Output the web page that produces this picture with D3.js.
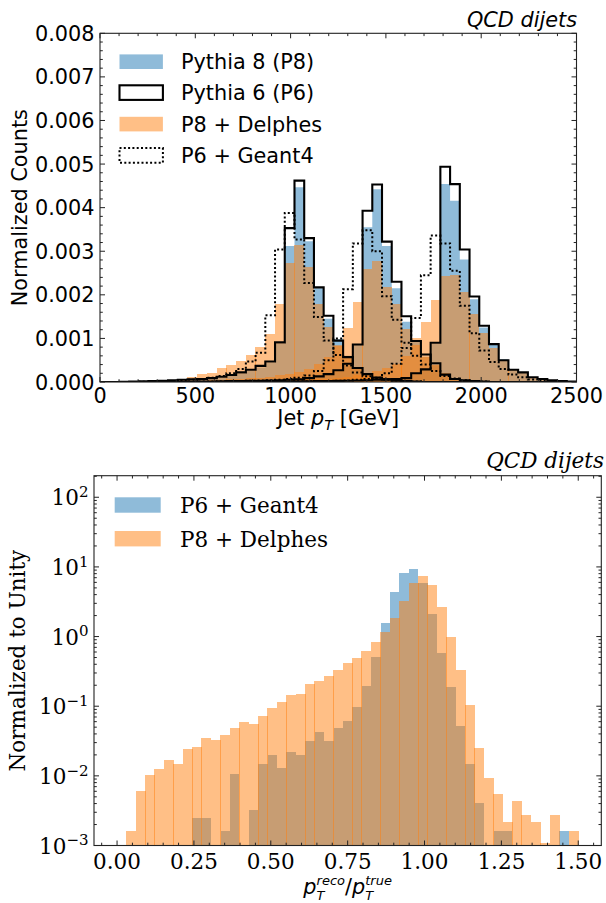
<!DOCTYPE html>
<html><head><meta charset="utf-8">
<script src="https://cdn.jsdelivr.net/npm/d3@7"></script>
<style>body{margin:0;background:#fff}svg{display:block}</style>
</head><body>
<script>
// ================= DATA =================
// Top panel: jet pT histograms, np.linspace(0,2500,50) bin edges -> 49 bins
const ptBinMin = 0, ptBinMax = 2500, ptBinCount = 49;
const countUnit = 1e-3; // values below are in units of 1e-3 (normalized counts)

const p8Slice1 = [0,0,0.005,0.01,0.015,0.02,0.025,0.03,0.04,0.05,
  0.06,0.08,0.10,0.14,0.19,0.25,0.33,0.45,0.88,3.12,
  4.47,3.23,2.15,1.45,0.98,0.60,0.34,0.19,0.10,0.06,
  0.03,0.02,0.01,0,0,0,0,0,0,0,
  0,0,0,0,0,0,0,0,0];
const p8Slice2 = [0,0,0,0,0,0,0,0,0,0,
  0.01,0.01,0.015,0.015,0.02,0.025,0.03,0.035,0.04,0.05,
  0.06,0.08,0.12,0.17,0.26,0.42,0.85,3.55,4.42,3.12,
  2.15,1.38,0.95,0.58,0.38,0.18,0.08,0.04,0.02,0.01,
  0,0,0,0,0,0,0,0,0];
const p8Slice3 = [0,0,0,0,0,0,0,0,0,0,
  0,0,0,0,0,0,0,0,0.005,0.005,
  0.01,0.01,0.015,0.015,0.02,0.025,0.03,0.035,0.04,0.05,
  0.06,0.09,0.18,0.30,0.88,4.54,4.16,2.81,1.90,1.25,
  0.85,0.52,0.30,0.21,0.11,0.07,0.04,0.02,0.01];

const p6Slice1 = [0,0,0.005,0.01,0.015,0.02,0.03,0.04,0.05,0.06,
  0.07,0.09,0.12,0.16,0.22,0.28,0.37,0.47,0.91,3.53,
  4.62,3.30,2.17,1.52,0.95,0.57,0.32,0.18,0.10,0.06,
  0.03,0.02,0.01,0,0,0,0,0,0,0,
  0,0,0,0,0,0,0,0,0];
const p6Slice2 = [0,0,0,0,0,0,0,0,0,0,
  0.01,0.01,0.015,0.02,0.02,0.025,0.03,0.035,0.04,0.05,
  0.06,0.09,0.13,0.18,0.27,0.42,0.86,3.93,4.53,3.22,
  2.30,1.51,0.94,0.63,0.43,0.17,0.07,0.04,0.02,0.01,
  0,0,0,0,0,0,0,0,0];
const p6Slice3 = [0,0,0,0,0,0,0,0,0,0,
  0,0,0,0,0,0,0,0,0.005,0.01,
  0.01,0.015,0.02,0.02,0.025,0.03,0.035,0.04,0.05,0.06,
  0.07,0.09,0.20,0.29,0.90,4.94,4.54,3.04,1.96,1.29,
  0.87,0.50,0.28,0.22,0.11,0.07,0.04,0.02,0.01];

const delphesSlice1 = [0,0.005,0.005,0.01,0.01,0.02,0.03,0.04,0.07,0.12,
  0.19,0.21,0.31,0.38,0.48,0.61,0.80,1.10,1.78,2.72,
  3.14,2.63,1.80,1.27,0.85,0.55,0.33,0.20,0.12,0.07,
  0.04,0.02,0.01,0,0,0,0,0,0,0,
  0,0,0,0,0,0,0,0,0];
const delphesSlice2 = [0,0,0,0.005,0.005,0.01,0.01,0.015,0.02,0.02,
  0.03,0.035,0.05,0.06,0.07,0.085,0.10,0.12,0.15,0.18,
  0.22,0.30,0.42,0.58,0.82,1.23,1.84,2.60,2.78,2.19,
  1.78,1.22,0.85,0.58,0.40,0.20,0.10,0.05,0.03,0.01,
  0,0,0,0,0,0,0,0,0];
const delphesSlice3 = [0,0,0,0,0,0.005,0.005,0.005,0.01,0.01,
  0.01,0.01,0.015,0.015,0.02,0.02,0.03,0.03,0.04,0.045,
  0.05,0.06,0.07,0.08,0.10,0.12,0.16,0.20,0.26,0.32,
  0.42,0.60,1.00,1.37,1.87,2.43,2.45,2.07,1.56,1.12,
  0.77,0.50,0.29,0.20,0.12,0.06,0.03,0.01,0];

const geantSlice1 = [0,0,0,0,0.005,0.01,0.01,0.02,0.03,0.05,
  0.07,0.10,0.14,0.20,0.30,0.47,0.67,1.53,3.04,3.88,
  3.27,2.27,1.49,0.95,0.62,0.38,0.22,0.13,0.08,0.05,
  0.03,0.02,0.01,0,0,0,0,0,0,0,
  0,0,0,0,0,0,0,0,0];
const geantSlice2 = [0,0,0,0,0,0,0,0,0.005,0.005,
  0.01,0.01,0.015,0.02,0.02,0.03,0.035,0.04,0.05,0.07,
  0.10,0.15,0.25,0.50,1.00,2.13,3.18,3.48,3.00,1.97,
  1.43,0.90,0.60,0.40,0.25,0.14,0.08,0.04,0.02,0.01,
  0,0,0,0,0,0,0,0,0];
const geantSlice3 = [0,0,0,0,0,0,0,0,0,0,
  0,0,0,0,0.005,0.005,0.01,0.01,0.01,0.01,
  0.015,0.015,0.02,0.02,0.03,0.035,0.05,0.07,0.10,0.20,
  0.42,0.78,1.47,2.45,3.36,3.18,2.55,1.75,1.12,0.72,
  0.46,0.30,0.17,0.11,0.06,0.03,0.02,0.01,0];

const topXTicks = [0, 500, 1000, 1500, 2000, 2500];
const topYTicks = [0, 0.001, 0.002, 0.003, 0.004, 0.005, 0.006, 0.007, 0.008];
const topLegendLabels = ["Pythia 8 (P8)", "Pythia 6 (P6)", "P8 + Delphes", "P6 + Geant4"];

// Bottom panel: response pT(reco)/pT(true), np.linspace(0,1.5,50) -> 49 bins
const ratioBinMin = 0, ratioBinMax = 1.5, ratioBinCount = 49;
const geantRatio = [0,0,0,0,0,0,0,0,0.00248,0.00248,
  0,0.00161,0.0106,0,0.00324,0.0148,0.0199,0.0129,0.0220,0.0199,
  0.0316,0.0426,0.0316,0.0486,0.0613,0.097,0.195,0.509,1.57,4.36,
  8.11,9.25,5.82,2.11,0.58,0.189,0.052,0.0148,0.00404,0,
  0.00161,0.00161,0,0,0,0,0,0.00161,0];
const delphesRatio = [0,0.00161,0.00607,0.0103,0.0125,0.0169,0.0148,0.0243,0.0259,0.0349,
  0.0327,0.0385,0.0486,0.0593,0.0555,0.0723,0.0942,0.115,0.145,0.150,
  0.208,0.230,0.271,0.330,0.417,0.490,0.627,0.835,1.17,1.87,
  3.24,5.82,7.41,5.50,2.66,0.986,0.331,0.104,0.0249,0.00923,
  0.00543,0.00216,0.00438,0.00272,0.00216,0.0011,0.00272,0,0.00161];
const bottomXTicks = [0, 0.25, 0.5, 0.75, 1.0, 1.25, 1.5];
const bottomYTickExps = [-3, -2, -1, 0, 1, 2];
const bottomLegendLabels = ["P6 + Geant4", "P8 + Delphes"];
const titleText = "QCD dijets";

// ================= DRAWING =================
const BLUE = "#1f77b4", ORANGE = "#ff7f0e";
const sans = "'DejaVu Sans', sans-serif", serif = "'DejaVu Serif', serif";
const FS = 20.8;
const svg = d3.select("body").append("svg").attr("width", 606).attr("height", 903);
svg.append("rect").attr("width", 606).attr("height", 903).attr("fill", "#fff");

function barSpan(a, b, lo, hi) {
  const fa = a - Math.floor(a), fb = b - Math.floor(b);
  const L = (fa >= lo && fa <= hi) ? Math.floor(a) : Math.round(a);
  const R = (fb >= lo && fb <= hi) ? Math.ceil(b) : Math.round(b);
  return [L, R];
}

// math-style label as ONE text element with tspans (sub/superscripts stacked)
function mathText(parent, tokens, cx, baseline, family, size, opt) {
  const o = Object.assign({small: 0.7, supOff: -0.42, subOff: 0.22}, opt || {});
  const small = size * o.small;
  const measure = (str, fs, italic) => {
    const t = parent.append("text").attr("font-family", family).attr("font-size", fs)
      .attr("font-style", italic ? "italic" : "normal").style("white-space", "pre").text(str);
    const w = t.node().getComputedTextLength(); t.remove(); return w;
  };
  let total = 0;
  tokens.forEach(tk => {
    if (tk.t !== undefined) total += measure(tk.t, size, tk.italic);
    else total += Math.max(tk.sup ? measure(tk.sup, small, true) : 0, tk.sub ? measure(tk.sub, small, true) : 0);
  });
  const text = parent.append("text").attr("x", cx - total / 2).attr("y", baseline)
    .attr("font-family", family).attr("font-size", size).attr("fill", "#000").style("white-space", "pre");
  let cur = 0, pendingDx = 0;
  const supOff = size * o.supOff, subOff = size * o.subOff;
  tokens.forEach(tk => {
    if (tk.t !== undefined) {
      text.append("tspan").attr("dx", pendingDx).attr("dy", -cur).attr("font-size", size)
        .attr("font-style", tk.italic ? "italic" : "normal").text(tk.t);
      cur = 0; pendingDx = 0;
    } else {
      const wSup = tk.sup ? measure(tk.sup, small, true) : 0;
      const wSub = tk.sub ? measure(tk.sub, small, true) : 0;
      if (tk.sup) {
        text.append("tspan").attr("dx", pendingDx).attr("dy", supOff - cur).attr("font-size", small)
          .attr("font-style", "italic").text(tk.sup);
        cur = supOff; pendingDx = 0;
      }
      if (tk.sub) {
        text.append("tspan").attr("dx", pendingDx - wSup).attr("dy", subOff - cur).attr("font-size", small)
          .attr("font-style", "italic").text(tk.sub);
        cur = subOff; pendingDx = Math.max(wSup, wSub) - wSub;
      } else {
        pendingDx = 0;
      }
    }
  });
  return text;
}

// ---------- TOP PANEL ----------
const T = {x0: 100, x1: 576.5, y0: 33.3, y1: 382};
const ptEdges = d3.range(ptBinCount + 1).map(i => ptBinMin + (ptBinMax - ptBinMin) * i / ptBinCount);
const xT = d3.scaleLinear().domain([0, 2500]).range([T.x0, T.x1]);
const yT = d3.scaleLinear().domain([0, 0.008]).range([T.y1, T.y0]);

svg.append("clipPath").attr("id", "clipT").append("rect")
  .attr("x", T.x0).attr("y", T.y0).attr("width", T.x1 - T.x0).attr("height", T.y1 - T.y0);
const gT = svg.append("g").attr("clip-path", "url(#clipT)");

const stepPts = vals => {
  const pts = vals.map((v, i) => [ptEdges[i], v * countUnit]);
  pts.push([ptEdges[vals.length], vals[vals.length - 1] * countUnit]);
  return pts;
};
const areaT = d3.area().x(d => xT(d[0])).y0(yT(0)).y1(d => yT(d[1])).curve(d3.curveStepAfter);
const lineT = d3.line().x(d => xT(d[0])).y(d => yT(d[1])).curve(d3.curveStepAfter);

// P8 filled
[p8Slice1, p8Slice2, p8Slice3].forEach(s => {
  gT.append("path").attr("d", areaT(stepPts(s))).attr("fill", BLUE).attr("fill-opacity", 0.5);
});
// P8 + Delphes bars
[delphesSlice1, delphesSlice2, delphesSlice3].forEach(s => {
  s.forEach((v, i) => {
    if (!v) return;
    const [L, R] = barSpan(xT(ptEdges[i]), xT(ptEdges[i + 1]), 0.4, 0.6);
    const top = Math.round(yT(v * countUnit)), bot = Math.round(yT(0));
    gT.append("rect").attr("x", L).attr("y", top).attr("width", R - L).attr("height", Math.max(0, bot - top))
      .attr("fill", ORANGE).attr("fill-opacity", 0.5).attr("shape-rendering", "crispEdges");
  });
});
// P6 solid steps
[p6Slice1, p6Slice2, p6Slice3].forEach(s => {
  const pts = [[ptEdges[0], 0], ...stepPts(s), [ptEdges[ptBinCount], 0]];
  gT.append("path").attr("d", lineT(pts)).attr("fill", "none").attr("stroke", "#000")
    .attr("stroke-width", 2.1).attr("stroke-linejoin", "miter");
});
// P6 + Geant4 dotted steps
[geantSlice1, geantSlice2, geantSlice3].forEach(s => {
  const pts = [[ptEdges[0], 0], ...stepPts(s), [ptEdges[ptBinCount], 0]];
  gT.append("path").attr("d", lineT(pts)).attr("fill", "none").attr("stroke", "#000")
    .attr("stroke-width", 2).attr("stroke-dasharray", "2,2.3");
});

// frame + ticks
const axT = svg.append("g");
axT.append("rect").attr("x", T.x0).attr("y", T.y0).attr("width", T.x1 - T.x0).attr("height", T.y1 - T.y0)
  .attr("fill", "none").attr("stroke", "#222").attr("stroke-width", 1.1);
const tick = (g, x1, y1, x2, y2, w) => g.append("line").attr("x1", x1).attr("y1", y1).attr("x2", x2).attr("y2", y2)
  .attr("stroke", "#222").attr("stroke-width", w || 1);
d3.range(0, 2501, 100).forEach(v => {
  const major = topXTicks.includes(v), len = major ? 5 : 2.8, x = xT(v);
  tick(axT, x, T.y1, x, T.y1 - len); tick(axT, x, T.y0, x, T.y0 + len);
});
d3.range(0, 41).map(i => i * 0.0002).forEach((v, i) => {
  const major = i % 5 === 0, len = major ? 5 : 2.8, y = yT(v);
  tick(axT, T.x0, y, T.x0 + len, y); tick(axT, T.x1, y, T.x1 - len, y);
});
topXTicks.forEach(v => axT.append("text").attr("x", xT(v)).attr("y", 402.5).attr("text-anchor", "middle")
  .attr("font-family", sans).attr("font-size", FS).text(v));
topYTicks.forEach(v => axT.append("text").attr("x", 94.5).attr("y", yT(v) + 7.6).attr("text-anchor", "end")
  .attr("font-family", sans).attr("font-size", FS).text(d3.format(".3f")(v)));

axT.append("text").attr("transform", `translate(26.5,${(T.y0 + T.y1) / 2}) rotate(-90)`).attr("text-anchor", "middle")
  .attr("font-family", sans).attr("font-size", FS).text("Normalized Counts");
mathText(axT, [{t: "Jet "}, {t: "p", italic: true}, {sub: "T"}, {t: " [GeV]"}], (T.x0 + T.x1) / 2, 425, sans, FS);
axT.append("text").attr("x", 577).attr("y", 27).attr("text-anchor", "end").attr("font-family", sans)
  .attr("font-style", "italic").attr("font-size", FS).text(titleText);

// top legend
const legT = svg.append("g");
const legRows = [61.7, 92.6, 124.1, 155.4];
legRows.forEach((cy, i) => {
  const r = legT.append("rect").attr("x", 119.5).attr("y", cy - 7.3).attr("width", 43.4).attr("height", 14.6);
  if (i === 0) r.attr("fill", BLUE).attr("fill-opacity", 0.5);
  if (i === 1) r.attr("fill", "none").attr("stroke", "#000").attr("stroke-width", 2.1);
  if (i === 2) r.attr("fill", ORANGE).attr("fill-opacity", 0.5);
  if (i === 3) r.attr("fill", "none").attr("stroke", "#000").attr("stroke-width", 2).attr("stroke-dasharray", "2,2.3");
  legT.append("text").attr("x", 181).attr("y", cy + 7.6).attr("font-family", sans).attr("font-size", FS)
    .text(topLegendLabels[i]);
});

// ---------- BOTTOM PANEL ----------
const B = {x0: 94, x1: 601.3, y0: 475.7, y1: 845.5};
const rEdges = d3.range(ratioBinCount + 1).map(i => ratioBinMin + (ratioBinMax - ratioBinMin) * i / ratioBinCount);
const xB = d3.scaleLinear().domain([-0.075, 1.575]).range([B.x0, B.x1]);
const yB = d3.scaleLog().domain([1e-3, 204]).range([B.y1, B.y0]);

svg.append("clipPath").attr("id", "clipB").append("rect")
  .attr("x", B.x0).attr("y", B.y0).attr("width", B.x1 - B.x0).attr("height", B.y1 - B.y0);
const gB = svg.append("g").attr("clip-path", "url(#clipB)");

function drawLogBars(vals, color, seam) {
  vals.forEach((v, i) => {
    if (!v) return;
    const a = xB(rEdges[i]), b = xB(rEdges[i + 1]);
    const [L, R] = seam ? barSpan(a, b, 0.2, 0.8) : [Math.round(a), Math.round(b)];
    const top = Math.round(yB(v)), bot = Math.round(B.y1) + 1;
    gB.append("rect").attr("x", L).attr("y", top).attr("width", R - L).attr("height", Math.max(0, bot - top))
      .attr("fill", color).attr("fill-opacity", 0.5).attr("shape-rendering", "crispEdges");
  });
}
drawLogBars(geantRatio, BLUE, false);
drawLogBars(delphesRatio, ORANGE, true);

const axB = svg.append("g");
axB.append("rect").attr("x", B.x0).attr("y", B.y0).attr("width", B.x1 - B.x0).attr("height", B.y1 - B.y0)
  .attr("fill", "none").attr("stroke", "#222").attr("stroke-width", 1.1);
d3.range(-1, 32).map(i => i * 0.05).forEach(v => {
  const major = Math.abs(v * 4 - Math.round(v * 4)) < 1e-6, len = major ? 5 : 2.8, x = xB(v);
  if (x < B.x0 || x > B.x1) return;
  tick(axB, x, B.y1, x, B.y1 - len); tick(axB, x, B.y0, x, B.y0 + len);
});
bottomYTickExps.forEach(e => {
  [1, 2, 3, 4, 5, 6, 7, 8, 9].forEach(m => {
    const v = m * Math.pow(10, e);
    if (v > 204) return;
    const y = yB(v), len = m === 1 ? 5 : 2.8;
    tick(axB, B.x0, y, B.x0 + len, y); tick(axB, B.x1, y, B.x1 - len, y);
  });
});
bottomXTicks.forEach(v => axB.append("text").attr("x", xB(v)).attr("y", 869).attr("text-anchor", "middle")
  .attr("font-family", serif).attr("font-size", 21.5).text(d3.format(".2f")(v)));
bottomYTickExps.forEach(e => {
  const t = axB.append("text").attr("x", 88.5).attr("y", yB(Math.pow(10, e)) + 8).attr("text-anchor", "end")
    .attr("font-family", serif).attr("font-size", 21.5);
  t.append("tspan").text("10");
  t.append("tspan").attr("dy", -8.2).attr("font-size", 15).text(e < 0 ? "\u2212" + Math.abs(e) : String(e));
});
axB.append("text").attr("transform", `translate(24.5,${(B.y0 + B.y1) / 2}) rotate(-90)`).attr("text-anchor", "middle")
  .attr("font-family", serif).attr("font-size", 21.5).text("Normalized to Unity");
mathText(axB, [{t: "p", italic: true}, {sub: "T", sup: "reco"}, {t: "/"}, {t: "p", italic: true}, {sub: "T", sup: "true"}],
  (B.x0 + B.x1) / 2, 893.5, sans, FS, {small: 0.625, supOff: -0.43, subOff: 0.30});
axB.append("text").attr("x", 604).attr("y", 468).attr("text-anchor", "end").attr("font-family", serif)
  .attr("font-style", "italic").attr("font-size", 21.5).text(titleText);

// bottom legend
const legB = svg.append("g");
[505, 538.7].forEach((cy, i) => {
  legB.append("rect").attr("x", 114.7).attr("y", cy - 7.7).attr("width", 46).attr("height", 15.4)
    .attr("fill", i === 0 ? BLUE : ORANGE).attr("fill-opacity", 0.5);
  legB.append("text").attr("x", 180).attr("y", cy + 7.8).attr("font-family", serif).attr("font-size", 21.5)
    .text(bottomLegendLabels[i]);
});
</script>
</body></html>
